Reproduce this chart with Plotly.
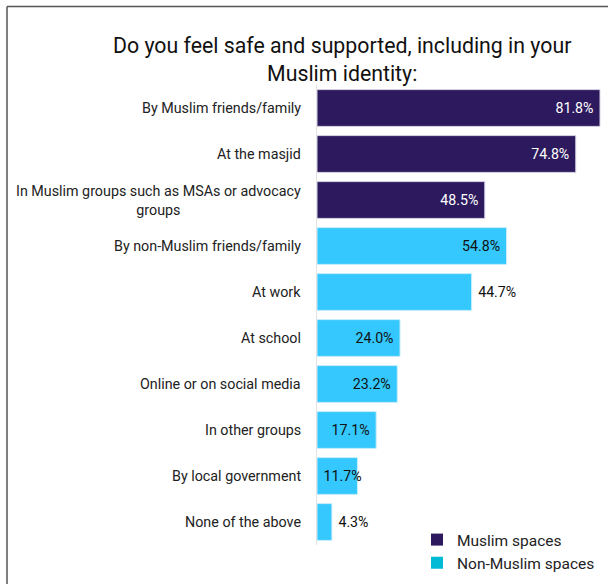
import plotly.graph_objects as go

# Survey answers, top to bottom
muslim_labels = [
    "By Muslim friends/family",
    "At the masjid",
    "In Muslim groups such as MSAs or advocacy<br>groups",
]
muslim_values = [81.8, 74.8, 48.5]

non_muslim_labels = [
    "By non-Muslim friends/family",
    "At work",
    "At school",
    "Online or on social media",
    "In other groups",
    "By local government",
    "None of the above",
]
non_muslim_values = [54.8, 44.7, 24.0, 23.2, 17.1, 11.7, 4.3]
non_muslim_textpos = ["inside", "outside", "inside", "inside", "inside", "inside", "outside"]

title_text = "Do you feel safe and supported, including in your<br>Muslim identity:"

PURPLE = "#2d1a5e"
CYAN = "#34c8fe"
CYAN_KEY = "#00bad6"
FONT = "Roboto"
NB = "\u00a0"

W, H = 608, 584
L, R, T, B = 317, 0, 84.5, 39
pw, ph = W - L - R, H - T - B
px_per_unit = (600 - 317) / 81.8
x_max = pw / px_per_unit
NARROW = 45  # px: value text no longer fits inside


def px_x(x):
    return (x - L) / pw


def px_y(y):
    return 1 - (y - T) / ph


def anchor_of(pos, value):
    return "start" if pos == "inside" and value * px_per_unit < NARROW else "end"


def label_template(pos, anchor):
    if pos == "outside":
        return NB + "%{x:.1f}%"
    if anchor == "start":
        return NB + "%{x:.1f}%"
    return "%{x:.1f}%" + NB


def add_series(labels, values, positions, color, outline, text_color):
    anchors = [anchor_of(p, v) for p, v in zip(positions, values)]
    for anchor in ("end", "start"):
        idx = [i for i, a in enumerate(anchors) if a == anchor]
        if not idx:
            continue
        fig.add_trace(go.Bar(
            y=[labels[i] for i in idx], x=[values[i] for i in idx], orientation="h",
            marker=dict(color=color, line=dict(color=outline, width=1)),
            texttemplate=[label_template(positions[i], anchor) for i in idx],
            textposition=[positions[i] for i in idx], insidetextanchor=anchor,
            textfont=dict(family=FONT, size=14.2, color=text_color),
            constraintext="none", cliponaxis=False, showlegend=False,
        ))


categories = muslim_labels + non_muslim_labels

fig = go.Figure()
add_series(muslim_labels, muslim_values, ["inside"] * len(muslim_values),
           PURPLE, "#d8d4e4", "white")
add_series(non_muslim_labels, non_muslim_values, non_muslim_textpos,
           CYAN, "#c8eefc", "#111111")

# Legend keys
for name, col in [("Muslim spaces", PURPLE), ("Non-Muslim spaces", CYAN_KEY)]:
    fig.add_trace(go.Scatter(
        x=[None], y=[None], mode="markers", name=name,
        marker=dict(symbol="square", size=16, color=col),
    ))

# Category labels, centred when wrapped
for cat in categories:
    fig.add_annotation(
        x=0, y=cat, xref="x", yref="y", text=cat, showarrow=False,
        xanchor="right", xshift=-14, align="center",
        font=dict(family=FONT, size=14.3, color="#222222"),
    )

fig.add_annotation(
    x=px_x(342), y=px_y(30), xref="paper", yref="paper", text=title_text,
    showarrow=False, xanchor="center", yanchor="top", align="center",
    font=dict(family=FONT, size=21.3, color="#111111"),
)

# Frame lines along the top and left edges
fig.add_shape(type="line", xref="paper", yref="paper",
              x0=px_x(7), x1=px_x(610), y0=px_y(6), y1=px_y(6),
              line=dict(color="#555555", width=1.5))
fig.add_shape(type="line", xref="paper", yref="paper",
              x0=px_x(7), x1=px_x(7), y0=px_y(6), y1=px_y(590),
              line=dict(color="#555555", width=1.5))

fig.update_layout(
    width=W, height=H,
    margin=dict(l=L, r=R, t=T, b=B, autoexpand=False),
    paper_bgcolor="white", plot_bgcolor="white",
    barmode="relative", bargap=0.2,
    xaxis=dict(range=[0, x_max], visible=False, fixedrange=True),
    yaxis=dict(categoryorder="array", categoryarray=categories, autorange="reversed",
               showticklabels=False, showgrid=False, zeroline=False,
               showline=True, linecolor="#e2e2e2", linewidth=1, ticks=""),
    legend=dict(x=px_x(417), y=px_y(523), xanchor="left", yanchor="top",
                font=dict(family=FONT, size=15.5, color="#222222"),
                bgcolor="rgba(0,0,0,0)", tracegroupgap=0, itemsizing="constant"),
    font=dict(family=FONT),
)

fig.write_html("out.html")
